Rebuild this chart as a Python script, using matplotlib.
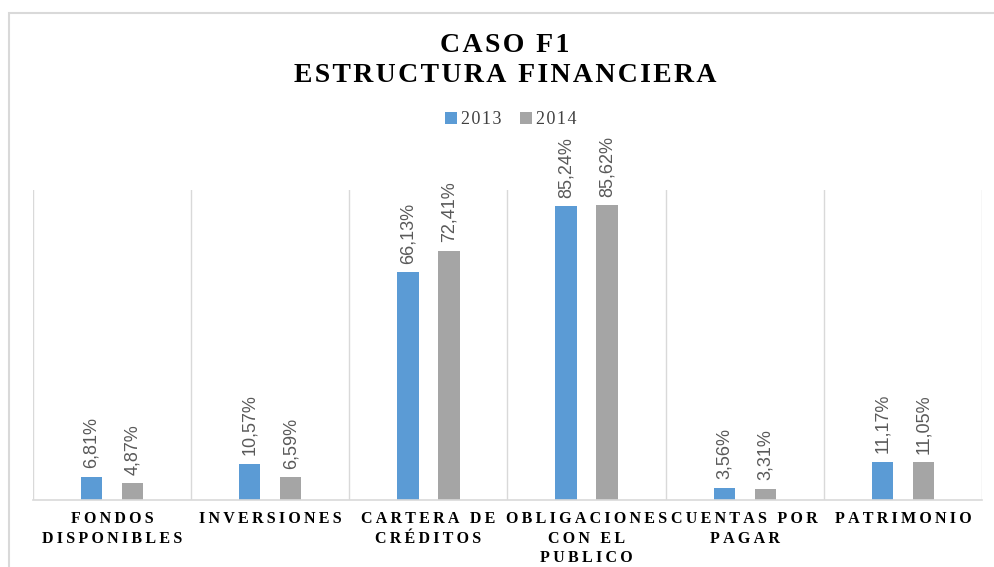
"""Caso F1 - estructura financiera, barras agrupadas 2013 vs 2014."""

import matplotlib
matplotlib.use("Agg")
import matplotlib.pyplot as plt
import numpy as np
from matplotlib.patches import Rectangle

categories = [
    "FONDOS\nDISPONIBLES",
    "INVERSIONES",
    "CARTERA DE\nCRÉDITOS",
    "OBLIGACIONES\nCON EL\nPUBLICO",
    "CUENTAS POR\nPAGAR",
    "PATRIMONIO",
]
years = ["2013", "2014"]
values_2013 = [6.81, 10.57, 66.13, 85.24, 3.56, 11.17]
values_2014 = [4.87, 6.59, 72.41, 85.62, 3.31, 11.05]

BLUE = "#5B9BD5"
GRAY = "#A5A5A5"
GRID = "#D9D9D9"
SERIF = ["Liberation Serif", "DejaVu Serif"]
NARROW = ["Liberation Sans Narrow", "Liberation Sans", "DejaVu Sans"]
THIN = "\u2009"
HAIR = "\u200a"


def spaced(text, sep=THIN):
    # crude letter spacing: put a narrow space between characters
    return "\n".join(sep.join(line) for line in text.split("\n"))


def pct(v):
    return f"{v:.2f}".replace(".", ",") + "%"


fig = plt.figure(figsize=(9.94, 5.67), dpi=100)
ax = fig.add_axes([33 / 994, 1 - 500 / 567, (982 - 33) / 994, (500 - 190) / 567])

x = np.arange(len(categories))
w = 0.135
off = 0.13
b1 = ax.bar(x - off, values_2013, w, color=BLUE, label=spaced(years[0], HAIR))
b2 = ax.bar(x + off, values_2014, w, color=GRAY, label=spaced(years[1], HAIR))

for bars, vals in ((b1, values_2013), (b2, values_2014)):
    for rect, v in zip(bars, vals):
        ax.annotate(pct(v), (rect.get_x() + rect.get_width() / 2, rect.get_height()),
                    xytext=(0, 6), textcoords="offset points", rotation=90,
                    ha="center", va="bottom", fontsize=13, color="#595959",
                    family=NARROW)

ax.set_xlim(-0.5, len(categories) - 0.5)
ax.set_ylim(0, 90)
ax.set_yticks([])
ax.set_xticks(x)
ax.set_xticklabels([spaced(c) for c in categories], family=SERIF,
                   fontweight="bold", fontsize=11.5, linespacing=1.3)
ax.tick_params(axis="x", length=0, pad=8)
for b in np.arange(-0.5, len(categories), 1.0):
    ax.axvline(b, color=GRID, lw=1, zorder=0)
for s in ("top", "right", "left"):
    ax.spines[s].set_visible(False)
ax.spines["bottom"].set_color(GRID)
ax.spines["bottom"].set_linewidth(1.2)

fig.text(0.508, 1 - 46 / 567, spaced("CASO F1", HAIR), ha="center", va="center",
         family=SERIF, fontweight="bold", fontsize=20)
fig.text(0.508, 1 - 76 / 567, spaced("ESTRUCTURA FINANCIERA", HAIR), ha="center",
         va="center", family=SERIF, fontweight="bold", fontsize=20)

leg = fig.legend(loc="center", bbox_to_anchor=(0.514, 1 - 120 / 567), ncol=2,
                 frameon=False, prop={"family": SERIF, "size": 13},
                 handlelength=0.65, handleheight=0.65, handletextpad=0.25,
                 columnspacing=1.0, labelcolor="#404040")

fig.patches.append(Rectangle((9 / 994, -0.2), 1.2, 0.2 + 1 - 13 / 567,
                             transform=fig.transFigure, fill=False,
                             edgecolor=GRID, lw=1.5))

fig.savefig("out.png", dpi=100)
